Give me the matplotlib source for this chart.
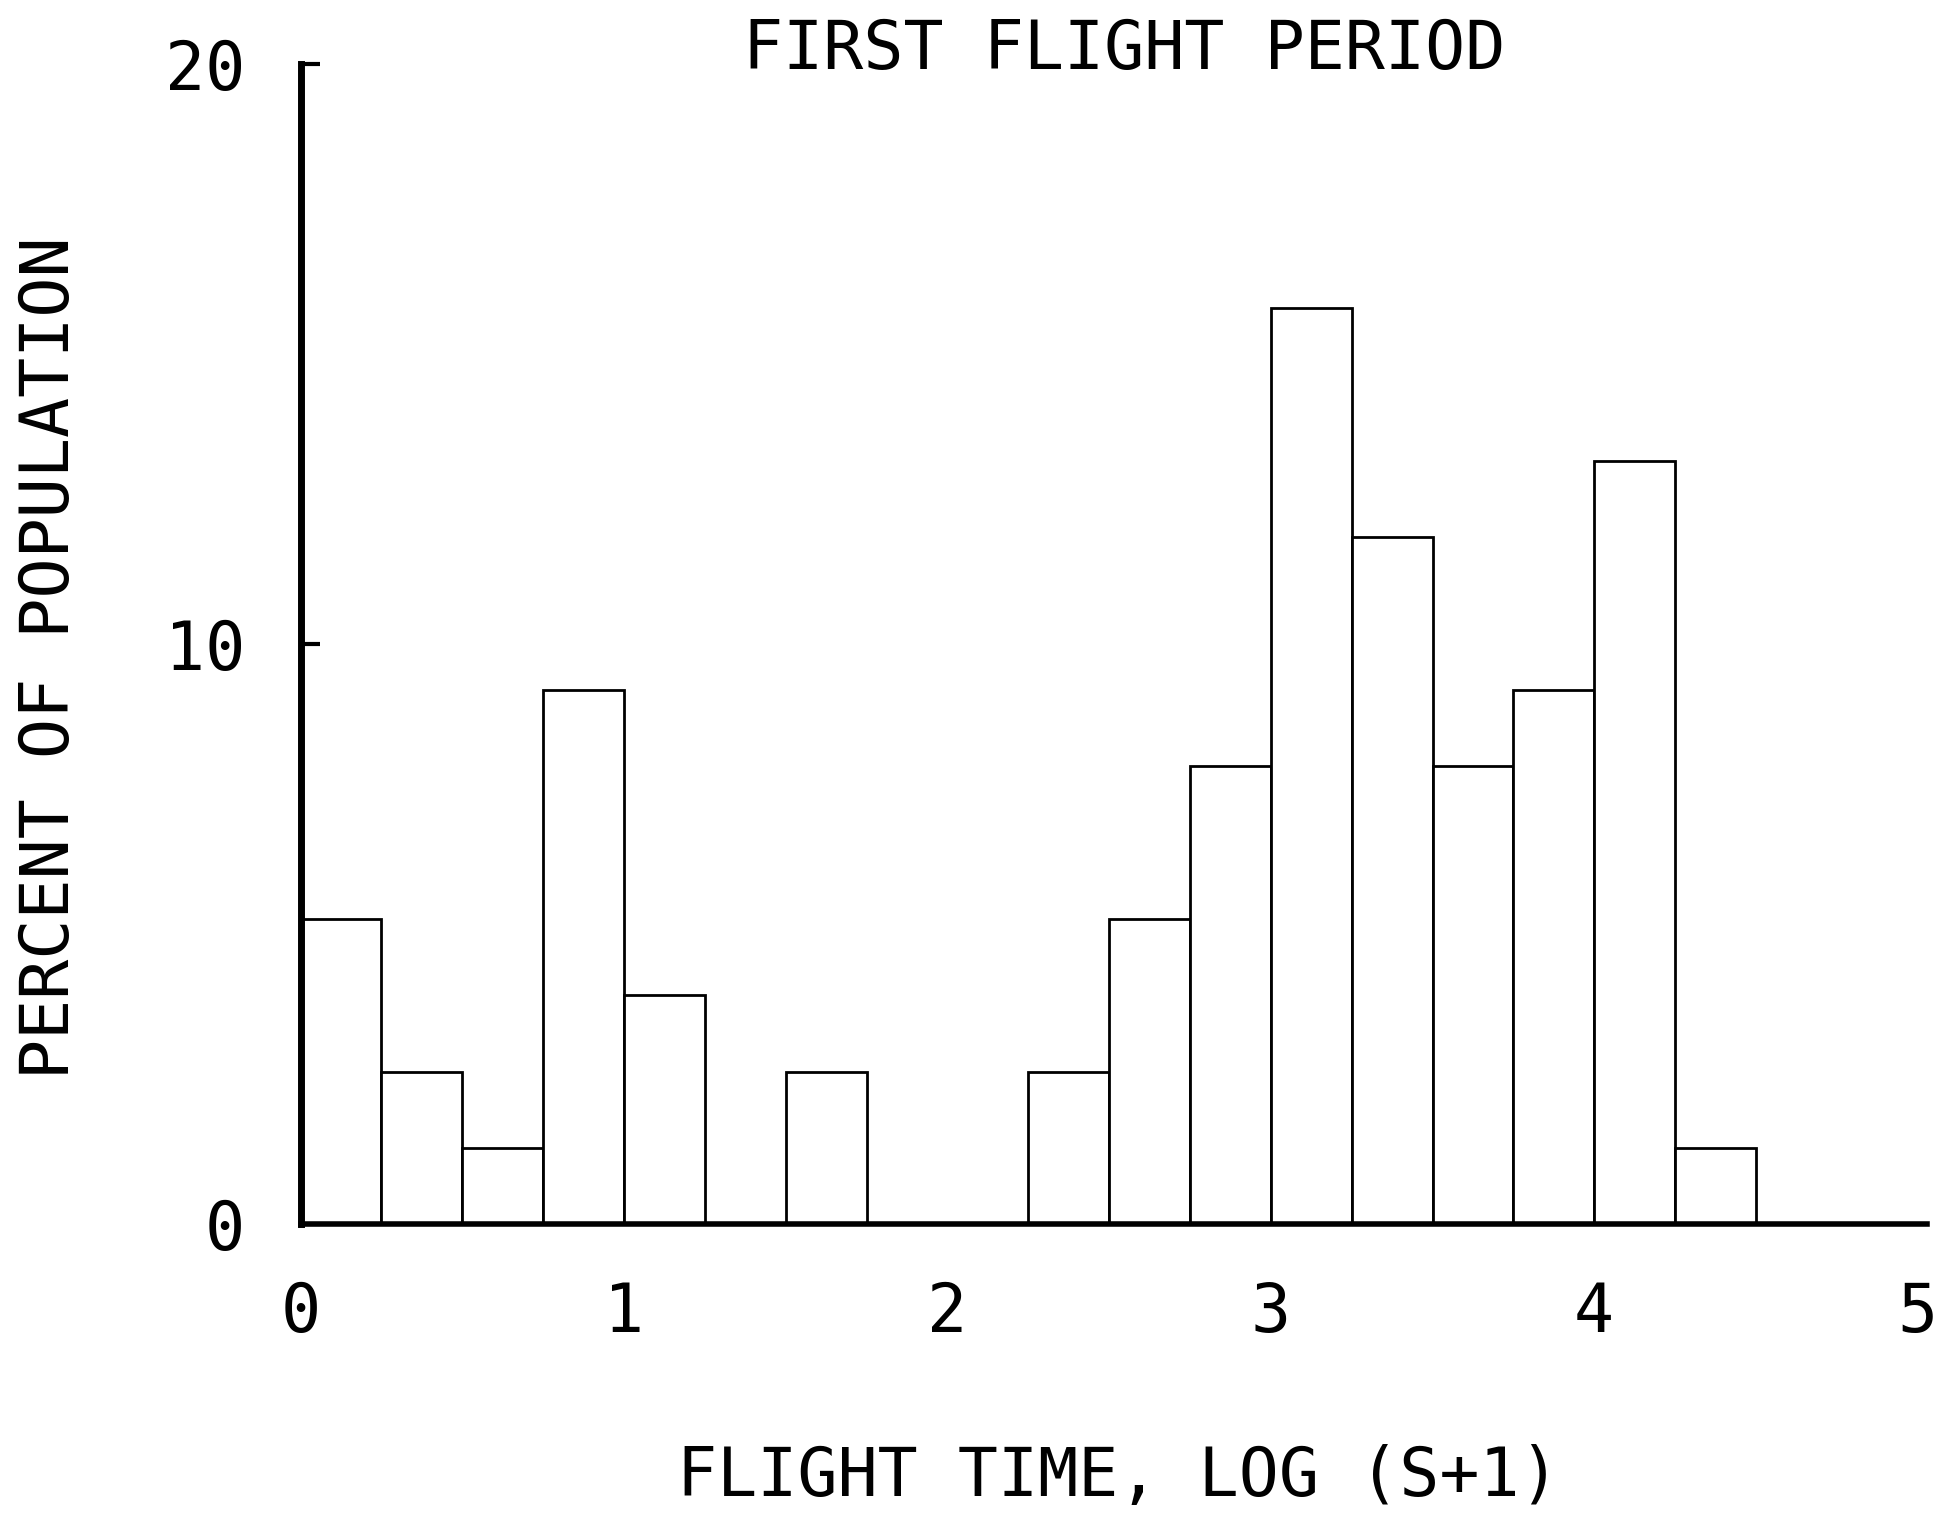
import numpy as np
import matplotlib
matplotlib.use("Agg")
import matplotlib.pyplot as plt

# histogram of flight time, bins of 0.25 in log(s+1)
bin_edges = np.arange(0, 4.75, 0.25)
percent = [5.26, 2.63, 1.32, 9.21, 3.95, 0.0, 2.63, 0.0, 0.0,
           2.63, 5.26, 7.89, 15.79, 11.84, 7.89, 9.21, 13.16, 1.32]
x_ticks = [0, 1, 2, 3, 4, 5]
y_ticks = [0, 10, 20]

plt.rcParams['font.family'] = ['DejaVu Sans Mono']
FS = 48

fig = plt.figure(figsize=(19.39, 15.15), dpi=100)
ax = fig.add_axes([0.155, 0.192, 0.839, 0.766])

left = bin_edges[:len(percent)]
for x0, h in zip(left, percent):
    if h > 0:
        ax.bar(x0, h, width=0.25, align='edge', color='white',
               edgecolor='black', linewidth=2.0, zorder=2)

ax.set_xlim(0, 5.03)
ax.set_ylim(0, 20)
ax.set_xticks(x_ticks)
ax.set_yticks(y_ticks)
ax.set_xticklabels([str(v) for v in x_ticks])
ax.set_yticklabels([str(v) for v in y_ticks])
ax.tick_params(axis='x', length=0, pad=40, labelsize=FS)
ax.tick_params(axis='y', direction='in', length=14, width=3, pad=40, labelsize=FS)

for s in ['top', 'right']:
    ax.spines[s].set_visible(False)
ax.spines['left'].set_linewidth(5)
ax.spines['bottom'].set_linewidth(4)
ax.spines['left'].set_zorder(3)
ax.spines['bottom'].set_zorder(3)

fig.text(0.58, 0.967, "FIRST FLIGHT PERIOD", ha='center', va='center', fontsize=FS)
fig.text(0.577, 0.025, "FLIGHT TIME, LOG (S+1)", ha='center', va='center', fontsize=FS)
fig.text(0.026, 0.566, "PERCENT OF POPULATION", ha='center', va='center',
         rotation=90, fontsize=FS)

fig.savefig("out.png", dpi=100)
